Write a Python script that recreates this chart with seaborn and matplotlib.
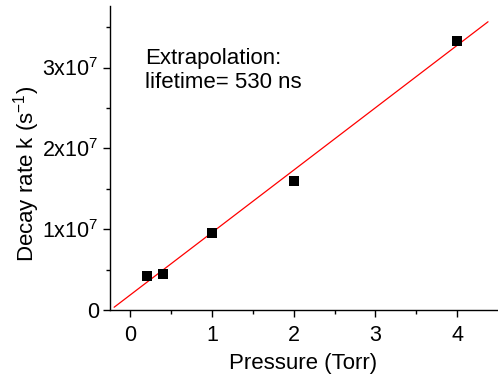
import matplotlib
matplotlib.use("Agg")
import matplotlib.pyplot as plt
import seaborn as sns
import numpy as np
import pandas as pd
from matplotlib.ticker import MultipleLocator, FuncFormatter

sns.set_style("ticks")
plt.rcParams['font.family'] = ['Liberation Sans', 'DejaVu Sans']
plt.rcParams['mathtext.fontset'] = 'custom'
plt.rcParams['mathtext.rm'] = 'Liberation Sans'
plt.rcParams['mathtext.it'] = 'Liberation Sans'
plt.rcParams['text.color'] = 'black'
plt.rcParams['axes.labelcolor'] = 'black'

# Data
pressure = [0.2, 0.4, 1.0, 2.0, 4.0]
decay_rate = [4.2e6, 4.5e6, 9.5e6, 1.60e7, 3.33e7]
fit_slope = 7.71e6
fit_intercept = 1.887e6
fit_x = [-0.2, 4.38]
annotation = "Extrapolation:\nlifetime= 530 ns"

fig = plt.figure(figsize=(4.98, 3.79), dpi=100)
ax = fig.add_axes([0.221, 0.182, 0.777, 0.802])

fit_df = pd.DataFrame({"x": fit_x, "y": [fit_slope * v + fit_intercept for v in fit_x]})
sns.lineplot(data=fit_df, x="x", y="y", ax=ax, color="#ff0000", linewidth=0.9)
df = pd.DataFrame({"x": pressure, "y": decay_rate})
sns.scatterplot(data=df, x="x", y="y", ax=ax, marker="s", s=45, color="black",
                edgecolor="black", linewidth=0, zorder=3)

ax.set_xlim(-0.25, 4.49)
ax.set_ylim(0, 3.76e7)
ax.xaxis.set_major_locator(MultipleLocator(1))
ax.xaxis.set_minor_locator(MultipleLocator(0.5))
ax.yaxis.set_major_locator(MultipleLocator(1e7))
ax.yaxis.set_minor_locator(MultipleLocator(0.5e7))

def yfmt(v, pos):
    n = int(round(v / 1e7))
    if n == 0:
        return "0"
    return r"%dx10$^{7}$" % n
ax.yaxis.set_major_formatter(FuncFormatter(yfmt))

sns.despine(ax=ax)
for s in ["left", "bottom"]:
    ax.spines[s].set_linewidth(1.0)
    ax.spines[s].set_color("black")
ax.tick_params(axis="both", which="major", direction="out", length=5, width=1,
               labelsize=15.5, colors="black", labelcolor="black")
ax.tick_params(axis="x", which="major", pad=6)
ax.tick_params(axis="y", which="major", pad=3)
ax.tick_params(axis="both", which="minor", direction="out", length=3, width=1, colors="black")

ax.set_xlabel("Pressure (Torr)", fontsize=16, labelpad=5, color="black")
ax.set_ylabel(r"Decay rate k (s$^{-1}$)", fontsize=16, color="black")
ax.yaxis.set_label_coords(-0.176, 0.447)

ax.text(0.18, 3.24e7, annotation, fontsize=16, va="top", ha="left", linespacing=1.15,
        color="black")

fig.savefig("out.png", dpi=100)
